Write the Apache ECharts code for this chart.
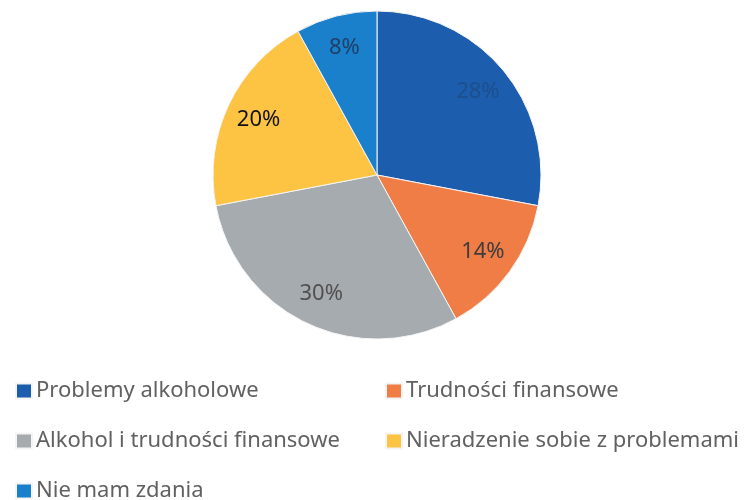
<!DOCTYPE html>
<html>
<head>
<meta charset="utf-8">
<script src="https://cdn.jsdelivr.net/npm/echarts@6/dist/echarts.min.js"></script>
<style>
  html, body { margin: 0; padding: 0; background: #fff; }
  #chart { width: 748px; height: 500px; }
</style>
</head>
<body>
<div id="chart"></div>
<script>
// dane wykresu
var categories = ['Problemy alkoholowe', 'Trudności finansowe', 'Alkohol i trudności finansowe', 'Nieradzenie sobie z problemami', 'Nie mam zdania'];
var values = [28, 14, 30, 20, 8];

var colors = ['#1c5dad', '#f07d46', '#a6abaf', '#fdc444', '#1b80cb'];
var labelColors = ['#1d4f8c', '#3d3d3d', '#505050', '#111111', '#1f3f66'];

var chart = echarts.init(document.getElementById('chart'));

var center = [377, 175];
var R = 164;

var pieData = categories.map(function (name, i) {
  return { name: name, value: values[i] };
});
var labelData = categories.map(function (name, i) {
  return { name: name, value: values[i], label: { color: labelColors[i] } };
});

// legenda: osobny komponent dla każdej pozycji, w dwóch kolumnach
var legendPos = [
  [15, 380], [385, 380],
  [15, 430], [385, 430],
  [15, 480]
];
var legends = categories.map(function (name, i) {
  return {
    data: [name],
    left: legendPos[i][0],
    top: legendPos[i][1],
    icon: 'rect',
    itemWidth: 16,
    itemHeight: 15,
    itemGap: 0,
    padding: 0,
    selectedMode: false,
    textStyle: {
      fontFamily: 'Noto Sans',
      fontSize: 22,
      lineHeight: 22,
      color: '#616161',
      padding: [0, 0, 0, -1]
    }
  };
});

var option = {
  color: colors,
  animation: false,
  legend: legends,
  series: [
    {
      name: 'pie',
      type: 'pie',
      center: center,
      radius: [0, R],
      startAngle: 90,
      clockwise: true,
      label: { show: false },
      labelLine: { show: false },
      itemStyle: { borderColor: '#f4f4f4', borderWidth: 1 },
      data: pieData
    },
    {
      // tylko etykiety, przesunięte na zewnątrz
      name: 'labels',
      type: 'pie',
      center: center,
      radius: [R * 0.56, R],
      startAngle: 90,
      clockwise: true,
      silent: true,
      itemStyle: { color: 'rgba(0,0,0,0)' },
      label: {
        show: true,
        position: 'inside',
        formatter: '{c}%',
        fontFamily: 'Noto Sans',
        fontSize: 22
      },
      labelLine: { show: false },
      data: labelData
    }
  ]
};

chart.setOption(option);
</script>
</body>
</html>
